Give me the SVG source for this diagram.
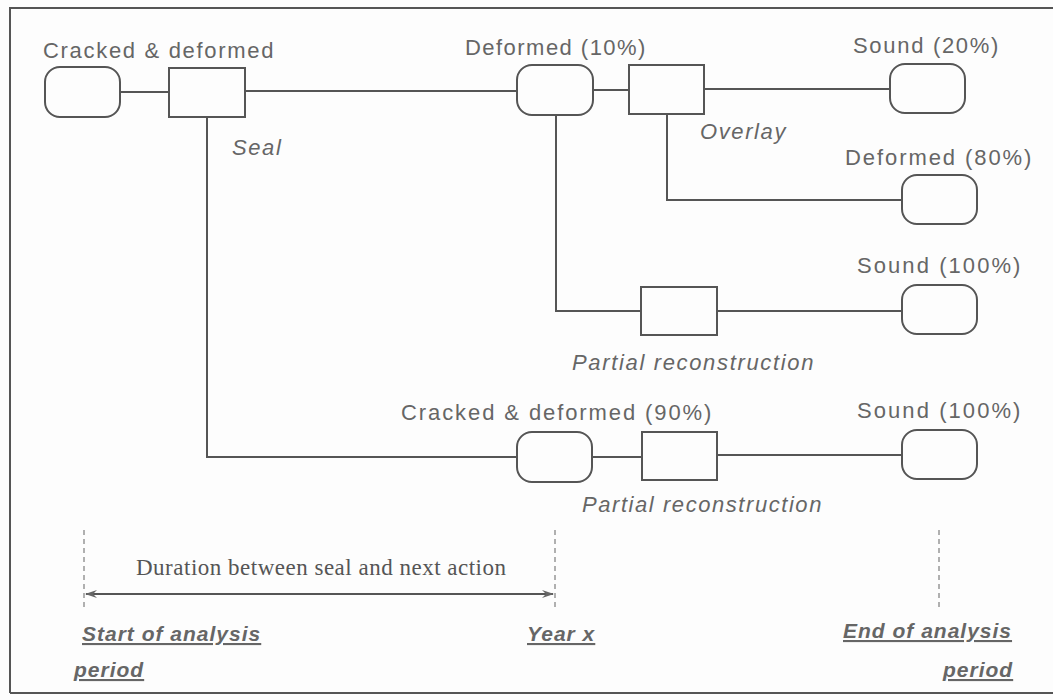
<svg xmlns="http://www.w3.org/2000/svg" width="1053" height="700" viewBox="0 0 1053 700">
<defs>
<style>
.st{fill:#fdfdfd;stroke:#555;stroke-width:2}
.ln{fill:none;stroke:#555;stroke-width:2}
.dash{fill:none;stroke:#888;stroke-width:1.3;stroke-dasharray:5,4}
.lbl{font-family:"Liberation Sans",Arial,sans-serif;font-size:22px;fill:#666;letter-spacing:1.6px}
.it{font-style:italic}
.ax{font-family:"Liberation Sans",Arial,sans-serif;font-size:21px;fill:#666;font-style:italic;font-weight:bold;letter-spacing:1px;text-decoration:underline}
.ser{font-family:"Liberation Serif","Times New Roman",serif;font-size:23px;fill:#555}
</style>
<marker id="ah" viewBox="0 0 12 10" refX="11" refY="5" markerWidth="12" markerHeight="10" markerUnits="userSpaceOnUse" orient="auto-start-reverse">
<path d="M0,1 L12,5 L0,9 L4,5 Z" fill="#666"/>
</marker>
</defs>
<rect x="0" y="0" width="1053" height="700" fill="#fdfdfd"/>
<g id="frame">
<path class="ln" d="M10,693 L10,8 L1053,8" stroke="#666"/>
<path class="ln" d="M10,693 L1053,693" stroke="#777"/>
</g>
<g id="connectors">
<path class="ln" d="M120,92 L169,92"/>
<path class="ln" d="M245,91 L517,91"/>
<path class="ln" d="M593,90 L629,90"/>
<path class="ln" d="M704,89 L890,89"/>
<path class="ln" d="M667,114 L667,200 L902,200"/>
<path class="ln" d="M556,115 L556,311 L641,311"/>
<path class="ln" d="M717,311 L902,311"/>
<path class="ln" d="M207,117 L207,457 L517,457"/>
<path class="ln" d="M592,457 L642,457"/>
<path class="ln" d="M717,455 L902,455"/>
</g>
<g id="n_start">
<rect class="st" x="45" y="67" width="75" height="50" rx="15"/>
<text class="lbl" x="43" y="58" textLength="232">Cracked &amp; deformed</text>
</g>
<g id="a_seal">
<rect class="st" x="169" y="68" width="76" height="49"/>
<text class="lbl it" x="232" y="155">Seal</text>
</g>
<g id="n_def10">
<rect class="st" x="517" y="65" width="76" height="50" rx="15"/>
<text class="lbl" x="465" y="55" textLength="182">Deformed (10%)</text>
</g>
<g id="a_overlay">
<rect class="st" x="629" y="65" width="75" height="49"/>
<text class="lbl it" x="700" y="139">Overlay</text>
</g>
<g id="n_sound20">
<rect class="st" x="890" y="64" width="75" height="49" rx="15"/>
<text class="lbl" x="853" y="53" textLength="147">Sound (20%)</text>
</g>
<g id="n_def80">
<rect class="st" x="902" y="175" width="75" height="49" rx="15"/>
<text class="lbl" x="845" y="165" textLength="188">Deformed (80%)</text>
</g>
<g id="a_partial1">
<rect class="st" x="641" y="287" width="76" height="48"/>
<text class="lbl it" x="572" y="370" textLength="243">Partial reconstruction</text>
</g>
<g id="n_sound100a">
<rect class="st" x="902" y="285" width="75" height="49" rx="15"/>
<text class="lbl" x="857" y="273" textLength="165">Sound (100%)</text>
</g>
<g id="n_crdef90">
<rect class="st" x="517" y="432" width="75" height="50" rx="15"/>
<text class="lbl" x="401" y="420" textLength="312">Cracked &amp; deformed (90%)</text>
</g>
<g id="a_partial2">
<rect class="st" x="642" y="432" width="75" height="48"/>
<text class="lbl it" x="582" y="512" textLength="241">Partial reconstruction</text>
</g>
<g id="n_sound100b">
<rect class="st" x="902" y="430" width="75" height="49" rx="15"/>
<text class="lbl" x="857" y="418" textLength="165">Sound (100%)</text>
</g>
<g id="timeline">
<path class="dash" d="M84,530 L84,607"/>
<path class="dash" d="M555,530 L555,607"/>
<path class="dash" d="M939,530 L939,607"/>
<path class="ln" d="M86,594 L553,594" stroke="#666" stroke-width="1.6" marker-start="url(#ah)" marker-end="url(#ah)"/>
<text class="ser" x="136" y="575" textLength="370">Duration between seal and next action</text>
<text class="ax" x="82" y="641">Start of analysis</text>
<text class="ax" x="74" y="677">period</text>
<text class="ax" x="527" y="641" font-weight="normal">Year x</text>
<text class="ax" x="843" y="638">End of analysis</text>
<text class="ax" x="943" y="677">period</text>
</g>
</svg>
